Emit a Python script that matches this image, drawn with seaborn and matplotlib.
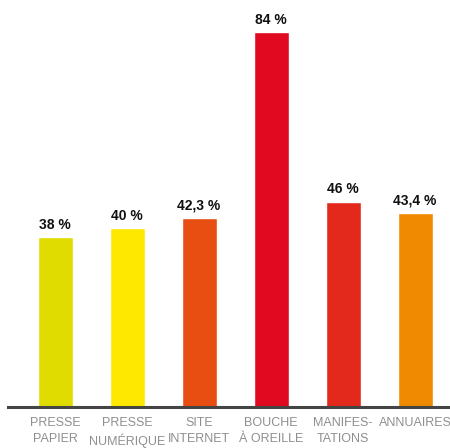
import matplotlib
matplotlib.use("Agg")
import matplotlib.pyplot as plt
import seaborn as sns
import pandas as pd

# données
categories = ["PRESSE\nPAPIER", "PRESSE\nNUMÉRIQUE", "SITE\nINTERNET",
              "BOUCHE\nÀ OREILLE", "MANIFES-\nTATIONS", "ANNUAIRES"]
valeurs = [38, 40, 42.3, 84, 46, 43.4]
etiquettes = ["38 %", "40 %", "42,3 %", "84 %", "46 %", "43,4 %"]
couleurs = ["#e0dc00", "#ffe800", "#e84e12", "#e0091f", "#e2291b", "#f08a00"]

df = pd.DataFrame({"cat": categories, "val": valeurs})

sns.set_theme(style="white")
plt.rcParams['font.family'] = ['Liberation Sans', 'DejaVu Sans']

fig = plt.figure(figsize=(4.5, 4.48), dpi=100)
ax = fig.add_axes([8 / 450, 41 / 448, 442 / 450, 407 / 448])

sns.barplot(data=df, x="cat", y="val", hue="cat", palette=couleurs,
            width=0.486, legend=False, ax=ax, saturation=1)

for cont, lab in zip(ax.containers, etiquettes):
    ax.bar_label(cont, labels=[lab], padding=4, fontsize=10,
                 fontweight="bold", color="#111111")

ax.set_xlim(-0.653, 5.486)
ax.set_ylim(0, 91.2)
ax.set_xlabel("")
ax.set_ylabel("")
ax.set_yticks([])
ax.tick_params(axis="x", length=0, pad=7, labelsize=9, labelcolor="#8f8f8f")
for t in ax.get_xticklabels():
    t.set_linespacing(1.45)
for s in ["top", "left", "right"]:
    ax.spines[s].set_visible(False)
ax.spines["bottom"].set_color("#444444")
ax.spines["bottom"].set_linewidth(2.2)

plt.savefig("out.png", dpi=100)
